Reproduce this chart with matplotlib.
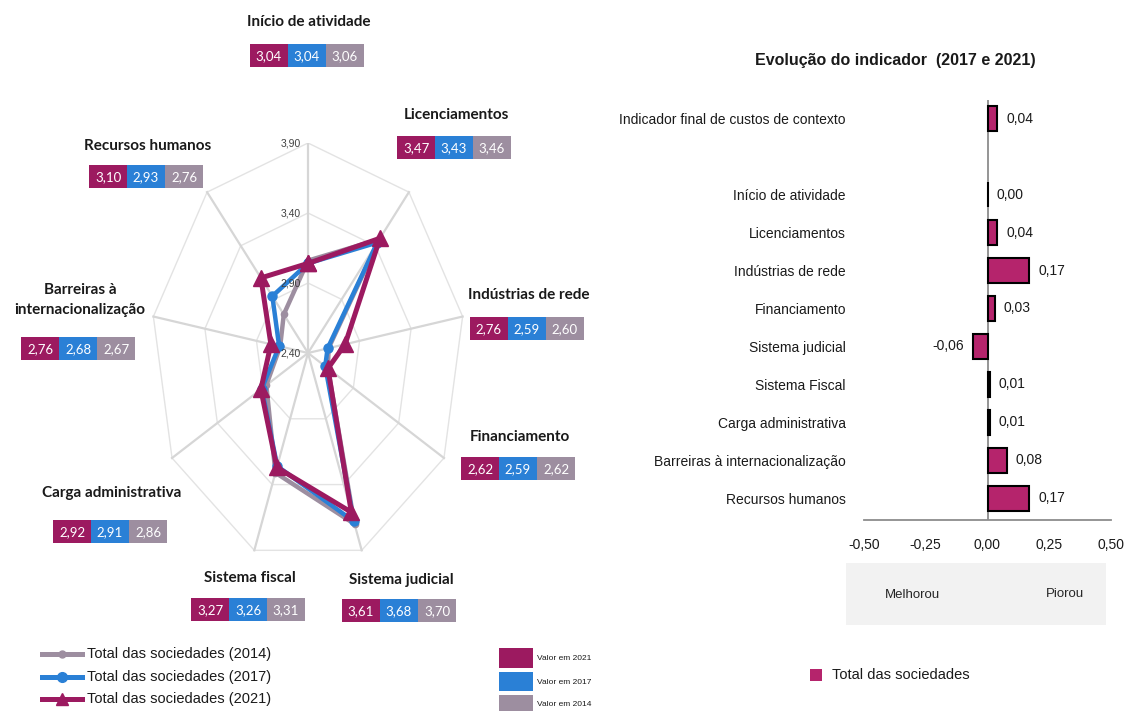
import numpy as np
import matplotlib
matplotlib.use('Agg')
import matplotlib.pyplot as plt
from matplotlib.patches import Rectangle
from matplotlib.lines import Line2D
from matplotlib.ticker import FuncFormatter

# ---------------- data ----------------
radar_categories = ['Início de atividade', 'Licenciamentos', 'Indústrias de rede',
                    'Financiamento', 'Sistema judicial', 'Sistema fiscal',
                    'Carga administrativa', 'Barreiras à\ninternacionalização',
                    'Recursos humanos']
values_2021 = [3.04, 3.47, 2.76, 2.62, 3.61, 3.27, 2.92, 2.76, 3.10]
values_2017 = [3.04, 3.43, 2.59, 2.59, 3.68, 3.26, 2.91, 2.68, 2.93]
values_2014 = [3.06, 3.46, 2.60, 2.62, 3.70, 3.31, 2.86, 2.67, 2.76]
radar_ticks = [2.40, 2.90, 3.40, 3.90]
series_names = ['Total das sociedades (2014)', 'Total das sociedades (2017)',
                'Total das sociedades (2021)']
box_legend = ['Valor em 2021', 'Valor em 2017', 'Valor em 2014']

bar_categories = ['Indicador final de custos de contexto', 'Início de atividade',
                  'Licenciamentos', 'Indústrias de rede', 'Financiamento',
                  'Sistema judicial', 'Sistema Fiscal', 'Carga administrativa',
                  'Barreiras à internacionalização', 'Recursos humanos']
bar_values = [0.04, 0.00, 0.04, 0.17, 0.03, -0.06, 0.01, 0.01, 0.08, 0.17]
bar_ticks = [-0.50, -0.25, 0.00, 0.25, 0.50]

# ---------------- style ----------------
C21 = '#9c1a60'
C17 = '#2a80d6'
C14 = '#9d8ea0'
CBAR = '#b5246c'
NARROW = ['Liberation Sans', 'DejaVu Sans']
BOLDF = ['Lato', 'DejaVu Sans']

W, H = 1128, 711
fig = plt.figure(figsize=(W / 100, H / 100), dpi=100)
fig.patch.set_facecolor('white')

def px_rect(x0, y0, x1, y1):
    return [x0 / W, (H - y1) / H, (x1 - x0) / W, (y1 - y0) / H]

# overlay axes in pixel coordinates (for labels / boxes)
ov = fig.add_axes([0, 0, 1, 1])
ov.set_xlim(0, W)
ov.set_ylim(H, 0)
ov.axis('off')
ov.patch.set_alpha(0)

# ---------------- radar ----------------
cx, cy, RX, RY = 308, 353, 157, 210
rmax = radar_ticks[-1] - radar_ticks[0]
rad = fig.add_axes(px_rect(cx - RX, cy - RY, cx + RX, cy + RY))
rad.set_xlim(-rmax, rmax)
rad.set_ylim(-rmax, rmax)
rad.axis('off')
rad.patch.set_alpha(0)

n = len(radar_categories)
theta = 2 * np.pi * np.arange(n) / n
base = radar_ticks[0]

# ring polygons
for t in radar_ticks[1:]:
    r = t - base
    xs = np.append(r * np.sin(theta), r * np.sin(theta[0]))
    ys = np.append(r * np.cos(theta), r * np.cos(theta[0]))
    rad.plot(xs, ys, color='#e3e3e3', lw=1.0, zorder=1)
# spokes
for th in theta:
    rad.plot([0, rmax * np.sin(th)], [0, rmax * np.cos(th)], color='#d6d6d6', lw=1.6, zorder=1)
# tick labels
for t in radar_ticks:
    r = t - base
    rad.text(-0.07, r, f'{t:.2f}'.replace('.', ','), ha='right', va='center',
             fontsize=7.5, color='#404040', family=NARROW, zorder=6)

def closed_xy(vals):
    r = np.array(vals) - base
    xs = r * np.sin(theta)
    ys = r * np.cos(theta)
    return np.append(xs, xs[0]), np.append(ys, ys[0])

x14, y14 = closed_xy(values_2014)
x17, y17 = closed_xy(values_2017)
x21, y21 = closed_xy(values_2021)
rad.plot(x14, y14, color=C14, lw=3.2, marker='o', ms=4.5, zorder=3, clip_on=False)
rad.plot(x17, y17, color=C17, lw=3.2, marker='o', ms=6.5, zorder=4, clip_on=False)
rad.plot(x21, y21, color=C21, lw=3.6, marker='^', ms=11, zorder=5, clip_on=False)

# category labels and value boxes (layout positions in pixels)
label_pos = [
    (309, 22, 44),    # Início de atividade
    (456, 115, 136),  # Licenciamentos
    (529, 295, 317),  # Indústrias de rede
    (520, 437, 457),  # Financiamento
    (401, 580, 599),  # Sistema judicial
    (250, 578, 598),  # Sistema fiscal
    (112, 493, 520),  # Carga administrativa
    (80, 300, 337),   # Barreiras
    (148, 146, 165),  # Recursos humanos
]
bw, bh = 38, 23
for i, (lx, ly, by) in enumerate(label_pos):
    ov.text(lx, ly, radar_categories[i], ha='center', va='center', fontsize=11,
            fontweight='bold', family=BOLDF, color='#1a1a1a', linespacing=1.5)
    x0 = lx - 1.5 * bw - 2
    for j, (vals, col) in enumerate([(values_2021, C21), (values_2017, C17), (values_2014, C14)]):
        ov.add_patch(Rectangle((x0 + j * bw, by), bw, bh, facecolor=col, edgecolor='none'))
        ov.text(x0 + j * bw + bw / 2, by + bh / 2 + 1, f'{vals[i]:.2f}'.replace('.', ','),
                ha='center', va='center', fontsize=9.5, color='white', family=BOLDF)

# radar legend (lines)
leg_y = [654, 677, 699]
for name, col, mk, ms, yy in zip(series_names, [C14, C17, C21], ['o', 'o', '^'], [5, 7, 9], leg_y):
    ov.add_line(Line2D([42, 82], [yy, yy], color=col, lw=3.6))
    ov.add_line(Line2D([62], [yy], color=col, marker=mk, ms=ms))
    ov.text(87, yy, name, ha='left', va='center', fontsize=10.5, family=NARROW, color='#1a1a1a')

# value box legend
for name, col, (y0, hh) in zip(box_legend, [C21, C17, C14], [(648, 20), (672, 19), (695, 17)]):
    ov.add_patch(Rectangle((499, y0), 34, hh, facecolor=col, edgecolor='none'))
    ov.text(537, y0 + 10, name, ha='left', va='center', fontsize=6, family=NARROW, color='#1a1a1a')

# ---------------- bar chart ----------------
bar_pos = [0] + list(range(2, 2 + len(bar_categories) - 1))
bx = fig.add_axes(px_rect(864, 100, 1111, 520))
bx.barh(bar_pos, bar_values, height=0.66, color=CBAR, edgecolor='black', linewidth=1.5, zorder=3)
bx.set_xlim(bar_ticks[0], bar_ticks[-1])
bx.set_ylim(10.58, -0.5)
bx.axvline(0, color='#8c8c8c', lw=1.3, zorder=2)
for s in ['top', 'right', 'left']:
    bx.spines[s].set_visible(False)
bx.spines['bottom'].set_color('#8c8c8c')
bx.spines['bottom'].set_linewidth(1.3)
bx.set_yticks(bar_pos)
bx.set_yticklabels(bar_categories, family=NARROW, fontsize=10, color='#1a1a1a')
bx.set_xticks(bar_ticks)
bx.xaxis.set_major_formatter(FuncFormatter(lambda v, p: f'{v:.2f}'.replace('.', ',')))
for lab in bx.get_xticklabels():
    lab.set_family(NARROW)
    lab.set_fontsize(10)
    lab.set_color('#1a1a1a')
bx.tick_params(axis='both', length=0)
bx.tick_params(axis='y', pad=13)
bx.tick_params(axis='x', pad=13)
bx.patch.set_alpha(0)
for p, v in zip(bar_pos, bar_values):
    txt = f'{v:.2f}'.replace('.', ',')
    if v < 0:
        bx.text(v - 0.035, p, txt, ha='right', va='center', fontsize=10, family=NARROW, color='#1a1a1a')
    else:
        bx.text(v + 0.035, p, txt, ha='left', va='center', fontsize=10, family=NARROW, color='#1a1a1a')

ov.text(895, 60, 'Evolução do indicador  (2017 e 2021)', ha='center', va='center',
        fontsize=11.5, fontweight='bold', family=NARROW, color='#1a1a1a')

# Melhorou / Piorou box
ov.add_patch(Rectangle((846, 563), 260, 62, facecolor='#f2f2f2', edgecolor='none'))
ov.text(912, 595, 'Melhorou', ha='center', va='center', fontsize=9.5, family=NARROW, color='#262626')
ov.text(1065, 594, 'Piorou', ha='center', va='center', fontsize=9.5, family=NARROW, color='#262626')

# bar legend
ov.add_patch(Rectangle((810, 669), 12, 12, facecolor=CBAR, edgecolor='none'))
ov.text(832, 675, 'Total das sociedades', ha='left', va='center', fontsize=10.5, family=NARROW, color='#1a1a1a')

fig.savefig('out.png', dpi=100, facecolor='white')
